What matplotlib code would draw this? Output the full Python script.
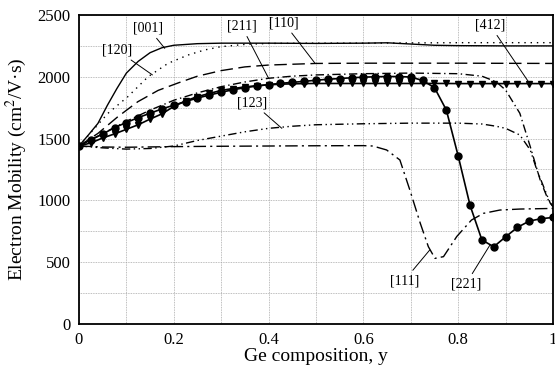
import numpy as np
import matplotlib
matplotlib.use("Agg")
import matplotlib.pyplot as plt
import matplotlib.ticker as ticker

plt.rcParams['font.family'] = ['Liberation Serif', 'DejaVu Serif']
plt.rcParams['mathtext.fontset'] = 'stix'

# [001] solid
x_001 = [0, 0.02, 0.04, 0.06, 0.08, 0.1, 0.125, 0.15, 0.175, 0.2, 0.25, 0.3, 0.4, 0.5, 0.6, 0.65, 0.7, 0.75, 0.8, 0.9, 1.0]
y_001 = [1440, 1530, 1623, 1770, 1905, 2030, 2125, 2195, 2235, 2255, 2268, 2272, 2272, 2270, 2272, 2275, 2265, 2255, 2252, 2250, 2250]

# [120] dotted
x_120 = [0, 0.03, 0.061, 0.103, 0.146, 0.188, 0.23, 0.265, 0.3, 0.35, 0.4, 0.5, 0.6, 0.7, 0.8, 0.9, 1.0]
y_120 = [1440, 1570, 1704, 1839, 2001, 2109, 2176, 2217, 2244, 2262, 2270, 2272, 2272, 2274, 2276, 2276, 2276]

# [110] long dash
x_110 = [0, 0.04, 0.082, 0.124, 0.167, 0.209, 0.25, 0.3, 0.35, 0.4, 0.5, 0.6, 0.8, 1.0]
y_110 = [1440, 1542, 1677, 1798, 1890, 1950, 2005, 2050, 2080, 2095, 2108, 2110, 2110, 2108]

# [211] dash-dot
x_211 = [0, 0.05, 0.1, 0.15, 0.2, 0.25, 0.3, 0.35, 0.4, 0.45, 0.5, 0.6, 0.7, 0.8, 0.85, 0.88, 0.9, 0.93, 0.952, 0.973, 0.99, 1.0]
y_211 = [1440, 1540, 1640, 1730, 1810, 1870, 1920, 1958, 1988, 2005, 2015, 2025, 2030, 2025, 2005, 1960, 1893, 1705, 1435, 1165, 1003, 950]

# [123] dash-dot-dot
x_123 = [0, 0.05, 0.1, 0.15, 0.2, 0.25, 0.3, 0.35, 0.4, 0.45, 0.5, 0.6, 0.7, 0.8, 0.85, 0.88, 0.9, 0.93, 0.952, 0.966, 0.983, 0.994, 1.0]
y_123 = [1440, 1425, 1415, 1420, 1440, 1485, 1520, 1555, 1583, 1600, 1612, 1620, 1625, 1625, 1618, 1600, 1583, 1529, 1408, 1246, 1084, 979, 950]

# [111] dash-dot, long dashes
x_111 = [0, 0.05, 0.1, 0.2, 0.3, 0.4, 0.5, 0.6, 0.62, 0.649, 0.677, 0.698, 0.72, 0.737, 0.751, 0.769, 0.797, 0.828, 0.853, 0.888, 0.93, 1.0]
y_111 = [1440, 1432, 1430, 1435, 1438, 1440, 1442, 1443, 1440, 1408, 1327, 1084, 815, 626, 531, 545, 708, 841, 895, 922, 930, 935]

# marker curves, sampled every 0.025
x_mark = np.linspace(0, 1, 41)
y_221 = [1440, 1490, 1537, 1589, 1630, 1670, 1705, 1740, 1770, 1800,
         1828, 1852, 1875, 1895, 1912, 1925, 1937, 1947, 1955, 1963,
         1972, 1980, 1986, 1992, 1997, 2000, 2002, 2002, 1998, 1970,
         1912, 1731, 1359, 960, 680, 625, 705, 782, 833, 852, 862]
y_412 = [1440, 1465, 1505, 1538, 1575, 1612, 1658, 1700, 1760, 1805,
         1840, 1865, 1890, 1905, 1918, 1928, 1935, 1940, 1943, 1945,
         1946, 1946, 1946, 1946, 1946, 1946, 1946, 1946, 1946, 1946,
         1946, 1946, 1945, 1945, 1945, 1945, 1945, 1945, 1945, 1945, 1945]

# labels: text, text position, pointed position
labels = ['[001]', '[120]', '[211]', '[110]', '[412]', '[123]', '[111]', '[221]']
label_txt = [(0.146, 2395), (0.0795, 2217), (0.343, 2411), (0.432, 2438),
             (0.867, 2419), (0.366, 1791), (0.686, 351), (0.816, 323)]
label_pt = [(0.181, 2230), (0.155, 2015), (0.40, 1988), (0.498, 2109),
            (0.948, 1961), (0.428, 1583), (0.74, 599), (0.867, 639)]

fig = plt.figure(figsize=(5.55, 3.7), dpi=100)
ax = fig.add_axes([0.1423, 0.1243, 0.8541, 0.8352])

lw = 1.0
ax.plot(x_001, y_001, color='k', lw=lw, linestyle='-')
ax.plot(x_120, y_120, color='k', lw=lw, linestyle=(0, (1, 3.5)))
ax.plot(x_110, y_110, color='k', lw=lw, linestyle=(0, (9, 4)))
ax.plot(x_211, y_211, color='k', lw=lw, linestyle=(0, (6, 2.5, 1, 2.5)))
ax.plot(x_123, y_123, color='k', lw=lw, linestyle=(0, (6, 2.5, 1, 2.5, 1, 2.5)))
ax.plot(x_111, y_111, color='k', lw=lw, linestyle=(0, (9, 3, 1.5, 3)))
ax.plot(x_mark, y_412, color='k', lw=1.2, marker='v', markersize=5)
ax.plot(x_mark, y_221, color='k', lw=1.2, marker='o', markersize=5)

for t, tp, pt in zip(labels, label_txt, label_pt):
    ax.annotate(t, xy=pt, xytext=tp, fontsize=10, ha='center', va='center',
                arrowprops=dict(arrowstyle='-', lw=0.7, color='k',
                                shrinkA=1, shrinkB=0))

ax.set_xlim(0, 1)
ax.set_ylim(0, 2500)
ax.xaxis.set_major_locator(ticker.MultipleLocator(0.2))
ax.xaxis.set_minor_locator(ticker.MultipleLocator(0.1))
ax.yaxis.set_major_locator(ticker.MultipleLocator(500))
ax.yaxis.set_minor_locator(ticker.MultipleLocator(250))
ax.xaxis.set_major_formatter(ticker.FuncFormatter(lambda v, p: '%g' % v))
ax.grid(True, which='both', color='#a8a8a8', lw=0.6, linestyle=(0, (1, 1)))
ax.set_axisbelow(True)
ax.tick_params(which='both', length=0, labelsize=12, pad=6)
for s in ax.spines.values():
    s.set_linewidth(1.3)

ax.set_xlabel('Ge composition, y', fontsize=14, labelpad=0)
ax.set_ylabel('Electron Mobility (cm$^2$/V\u00b7s)', fontsize=14, labelpad=6)

fig.savefig('out.png', dpi=100)
